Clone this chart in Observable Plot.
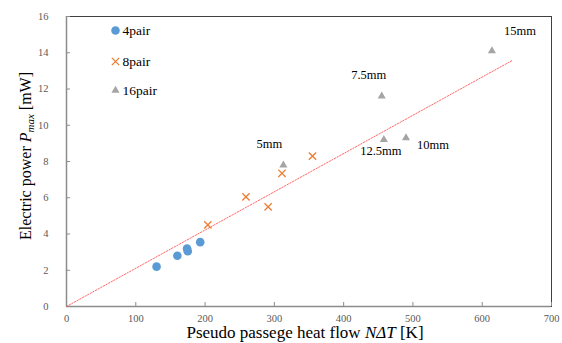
<!DOCTYPE html>
<html>
<head>
<meta charset="utf-8">
<script src="https://cdn.jsdelivr.net/npm/d3@7"></script>
<script src="https://cdn.jsdelivr.net/npm/@observablehq/plot@0.6"></script>
<style>
  html, body { margin: 0; padding: 0; background: #fff; }
  svg { display: block; }
  svg text { font-family: 'Liberation Serif', 'Times New Roman', serif; }
</style>
</head>
<body>
<div id="chart"></div>
<script>
// Heat flow NΔT [K] and maximum electric power [mW] per module configuration
const pair4X = [130, 160, 174, 175, 193];
const pair4Y = [2.2, 2.8, 3.2, 3.05, 3.55];
const pair8X = [204, 259, 291, 311, 355];
const pair8Y = [4.5, 6.05, 5.5, 7.35, 8.3];
const pair16X = [313, 455, 458, 490, 614];
const pair16Y = [7.8, 11.6, 9.2, 9.3, 14.1];
const pair16Labels = ["5mm", "7.5mm", "12.5mm", "10mm", "15mm"];
const seriesNames = ["4pair", "8pair", "16pair"];

// Linear trend through the origin
const trendSlope = 0.0211;
const trendXEnd = 643;

const xTicks = [0, 100, 200, 300, 400, 500, 600, 700];
const yTicks = [0, 2, 4, 6, 8, 10, 12, 14, 16];

const zip = (xs, ys, extra) => xs.map((x, i) => ({x, y: ys[i], label: extra ? extra[i] : null}));
const s4 = zip(pair4X, pair4Y);
const s8 = zip(pair8X, pair8Y);
const s16 = zip(pair16X, pair16Y, pair16Labels);
const trend = [0, trendXEnd].map(x => ({x, y: trendSlope * x}));

const BLUE = "#5b9bd5", ORANGE = "#ed7d31", GRAY = "#a5a5a5";
const serif = "'Liberation Serif', 'Times New Roman', serif";

// offsets of each size label from its triangle, in pixels
const labelOffsets = {
  "5mm": [-14, -21], "7.5mm": [-13, -21], "12.5mm": [-3, 11], "10mm": [27, 7], "15mm": [28, -20]
};

const legendItems = [
  {name: seriesNames[0], symbol: "circle", fill: BLUE, stroke: "none", r: 4.3, dy: 14},
  {name: seriesNames[1], symbol: "times", fill: "none", stroke: ORANGE, r: 3.4, dy: 45},
  {name: seriesNames[2], symbol: "triangle", fill: GRAY, stroke: "none", r: 3, dy: 74}
];

const tickStyle = {fontSize: 10.5, fontFamily: serif, fill: "#595959"};

const plot = Plot.plot({
  width: 562,
  height: 343,
  marginLeft: 66,
  marginRight: 11,
  marginTop: 16,
  marginBottom: 37,
  style: {fontFamily: serif, background: "#fff"},
  x: {domain: [0, 700], ticks: xTicks, label: null},
  y: {domain: [0, 16], ticks: yTicks, label: null},
  marks: [
    Plot.frame({stroke: "#404040", strokeWidth: 1}),
    Plot.ruleY([0], {stroke: "#8c8c8c", strokeWidth: 1.5}),
    Plot.ruleX([0], {stroke: "#8c8c8c", strokeWidth: 1.5}),
    Plot.axisX({ticks: xTicks, tickSize: 0, tickPadding: 8, label: null, ...tickStyle}),
    Plot.axisX({ticks: xTicks, tickSize: -4, stroke: "#8c8c8c", tickFormat: () => "", label: null}),
    Plot.axisY({ticks: yTicks, tickSize: 0, tickPadding: 18, label: null, ...tickStyle}),
    Plot.axisY({ticks: yTicks, tickSize: -4, stroke: "#8c8c8c", tickFormat: () => "", label: null}),
    Plot.line(trend, {x: "x", y: "y", stroke: "#ff4d4d", strokeWidth: 1, strokeDasharray: "1.5,1.5", strokeOpacity: 0.85}),
    Plot.dot(s4, {x: "x", y: "y", symbol: "circle", fill: BLUE, r: 4.3}),
    Plot.dot(s8, {x: "x", y: "y", symbol: "times", stroke: ORANGE, strokeWidth: 1.3, r: 3.4}),
    Plot.dot(s16, {x: "x", y: "y", symbol: "triangle", fill: GRAY, r: 3}),
    ...pair16Labels.map(lab => Plot.text(s16.filter(d => d.label === lab), {
      x: "x", y: "y", text: "label", dx: labelOffsets[lab][0], dy: labelOffsets[lab][1],
      fontSize: 12.5, fontFamily: serif, fill: "#000"
    })),
    // legend inside the plot area
    ...legendItems.map(it => Plot.dot([it], {
      frameAnchor: "top-left", dx: 49, dy: it.dy, symbol: it.symbol,
      fill: it.fill, stroke: it.stroke, strokeWidth: 1.3, r: it.r
    })),
    ...legendItems.map(it => Plot.text([it], {
      frameAnchor: "top-left", dx: 56, dy: it.dy, text: "name", textAnchor: "start",
      lineAnchor: "middle", fontSize: 13.5, fontFamily: serif, fill: "#000"
    }))
  ]
});

// Axis titles with italic and subscript parts
const svg = d3.select(plot);
const xt = svg.append("text")
  .attr("x", 305).attr("y", 338)
  .attr("text-anchor", "middle")
  .attr("font-family", serif).attr("font-size", 17).attr("fill", "#000");
xt.append("tspan").text("Pseudo passege heat flow ");
xt.append("tspan").attr("font-style", "italic").text("NΔT");
xt.append("tspan").text(" [K]");

const yt = svg.append("text")
  .attr("transform", "translate(31,156) rotate(-90)")
  .attr("text-anchor", "middle")
  .attr("font-family", serif).attr("font-size", 16).attr("fill", "#000");
yt.append("tspan").text("Electric power ");
yt.append("tspan").attr("font-style", "italic").text("P");
yt.append("tspan").attr("font-style", "italic").attr("font-size", 11).attr("dy", 3).text("max");
yt.append("tspan").attr("dy", -3).text(" [mW]");

document.getElementById("chart").appendChild(plot);
</script>
</body>
</html>
